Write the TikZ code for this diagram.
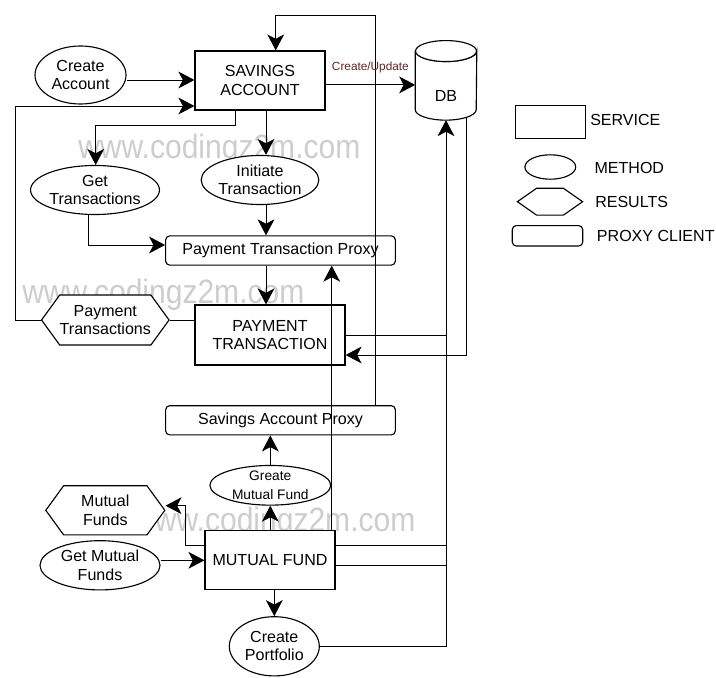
\documentclass[tikz,border=0pt]{standalone}
\usepackage{fontspec}
\setmainfont{Liberation Sans}
\usetikzlibrary{shapes.geometric, shapes.symbols, arrows.meta, positioning}

\definecolor{labelred}{RGB}{102,34,34}
\definecolor{markgray}{RGB}{205,205,205}

\tikzset{
    service/.style={
        rectangle, draw=black, fill=white, line width=0.8pt, text centered, align=center, inner sep=0pt
    },
    method/.style={
        ellipse, draw=black, fill=white, line width=0.8pt, text centered, align=center, inner sep=0pt
    },
    results/.style={
        signal, signal to=east and west, signal pointer angle=#1, draw=black, fill=white, line width=0.8pt, align=center, inner sep=0pt
    },
    proxy/.style={
        rectangle, rounded corners=0.1cm, draw=black, fill=white, line width=0.8pt, align=center, inner sep=0pt
    },
    database/.style={
        rectangle, inner sep=0pt
    },
    drum/.style={
        draw=black, fill=white, line width=0.8pt
    },
    keytext/.style={
        anchor=west, inner sep=0pt
    },
    arrow/.style={
        line width=0.7pt, -{Stealth[length=0.4cm, width=0.42cm, inset=0.11cm]}
    },
    link/.style={
        line width=0.7pt
    },
    watermark/.style={
        font=\fontsize{24}{28}\selectfont, text=markgray, anchor=base west, inner sep=0pt
    }
}

\begin{document}
\begin{tikzpicture}[x=0.025cm, y=-0.025cm, font=\fontsize{11.4}{13}\selectfont]
    \useasboundingbox (0,0) rectangle (716,677);

    % Watermark
    \node[watermark] (mark1) at (78,158) {\scalebox{0.89}[1]{www.codingz2m.com}};
    \node[watermark] (mark2) at (22,303.3) {\scalebox{0.89}[1]{www.codingz2m.com}};
    \node[watermark] (mark3) at (133,531.7) {\scalebox{0.89}[1]{www.codingz2m.com}};

    % Savings account
    \node[service, minimum width=3.25cm, minimum height=1.475cm] (savings) at (260,80.5) {SAVINGS\\ACCOUNT};
    \node[method, minimum width=2.275cm, minimum height=1.45cm] (createacc) at (80.5,75) {Create\\Account};
    \node[method, minimum width=3cm, minimum height=1.225cm] (gettrans) at (95,190) {Get\\Transactions};
    \node[method, minimum width=2.75cm, minimum height=1.225cm] (initiate) at (260,180) {Initiate\\Transaction};

    % Database
    \node[database, minimum width=1.525cm, minimum height=1.975cm] (db) at (446,80.35) {};
    \filldraw[drum] ([yshift=-0.2625cm]db.north west) -- ([yshift=0.2625cm]db.south west)
        arc[start angle=180, end angle=0, x radius=30.5, y radius=10.5] -- ([yshift=-0.2625cm]db.north east)
        arc[start angle=0, end angle=180, x radius=30.5, y radius=10.5];
    \draw[drum] ([yshift=-0.2625cm]db.north) ellipse[x radius=30.5, y radius=10.5];
    \node (dbtext) at (446,96) {DB};

    % Payment transaction
    \node[proxy, minimum width=5.74cm, minimum height=0.73cm] (ptproxy) at (280.5,250.5) {Payment Transaction Proxy};
    \node[service, minimum width=3.75cm, minimum height=1.5cm] (payment) at (270,335) {PAYMENT\\TRANSACTION};
    \node[results=108, minimum width=2.975cm, minimum height=1.25cm] (paytrans) at (105.3,320) {Payment\\Transactions};

    % Mutual fund
    \node[proxy, minimum width=5.74cm, minimum height=0.73cm] (saproxy) at (280.5,420.3) {Savings Account Proxy};
    \node[method, minimum width=3.02cm, minimum height=0.98cm, font=\fontsize{9.8}{13}\selectfont] (greate) at (270.3,485.3) {Greate\\Mutual Fund};
    \node[service, minimum width=3.25cm, minimum height=1.48cm] (mutual) at (270,560.3) {MUTUAL FUND};
    \node[results=108, minimum width=2.975cm, minimum height=1.23cm] (mfunds) at (105.3,510.3) {Mutual\\Funds};
    \node[method, minimum width=3cm, minimum height=1.23cm] (getmf) at (100,565.3) {Get Mutual\\Funds};
    \node[method, minimum width=2.25cm, minimum height=1.48cm] (portfolio) at (274.3,646.3) {Create\\Portfolio};

    % Legend
    \node[service, minimum width=1.75cm, minimum height=0.825cm] (keyservice) at (550.3,121.8) {};
    \node[keytext] (keyservicetext) at (590,120) {SERVICE};
    \node[method, minimum width=1.27cm, minimum height=0.61cm] (keymethod) at (550.3,167) {};
    \node[keytext] (keymethodtext) at (594.3,168) {METHOD};
    \node[results=70, minimum width=1.63cm, minimum height=0.67cm] (keyresults) at (550,201.7) {};
    \node[keytext] (keyresultstext) at (595,201.7) {RESULTS};
    \node[proxy, minimum width=1.76cm, minimum height=0.51cm] (keyproxy) at (547.5,235.8) {};
    \node[keytext] (keyproxytext) at (596.7,236) {PROXY CLIENT};

    % Turning points
    \coordinate (loopright) at (375.7,15);
    \coordinate (loopleft) at (275.7,15);
    \coordinate (backturn) at (15,106);
    \coordinate (getturn) at (95.7,125);
    \coordinate (proxyturn) at (88.3,245);
    \coordinate (midcol) at (266,0);
    \coordinate (fundup) at (331.7,0);
    \coordinate (dbout) at (466.7,117);
    \coordinate (dbback) at (466.7,355);
    \coordinate (fundturn) at (185,505.7);
    \coordinate (accountout) at ([yshift=-0.125cm]createacc.east);
    \coordinate (cu) at ([yshift=-0.11cm]savings.east);
    \coordinate (fundleft) at ([yshift=0.38cm]mutual.west);
    \coordinate (fundout1) at ([yshift=0.38cm]mutual.east);
    \coordinate (fundout2) at ([yshift=-0.12cm]mutual.east);

    % Savings account links
    \draw[arrow] (accountout) -- (accountout -| savings.west);
    \draw[arrow] (paytrans.west) -| (backturn) -- (backturn -| savings.west);
    \draw[link] (paytrans.east -| payment.west) -- (paytrans.east);
    \draw[arrow] (saproxy.north -| loopright) -- (loopright) -- (loopleft) -- (loopleft |- savings.north);
    \draw[arrow] (cu) -- node[above=4.5pt, font=\fontsize{8.4}{10}\selectfont, text=labelred] (culabel) {Create/Update} (cu -| db.west);
    \draw[arrow] ([xshift=-0.61cm]savings.south) |- (getturn) -- (getturn |- gettrans.north);
    \draw[arrow] (savings.south -| midcol) -- (midcol |- initiate.north);
    \draw[arrow] (gettrans.south -| proxyturn) -- (proxyturn) -- (proxyturn -| ptproxy.west);
    \draw[arrow] (initiate.south -| midcol) -- (midcol |- ptproxy.north);
    \draw[arrow] (ptproxy.south -| midcol) -- (midcol |- payment.north);

    % Database links
    \draw[arrow] (dbout) -- (dbback) -- (dbback -| payment.east);
    \draw[link] (payment.east) -- (payment.east -| db.south);
    \draw[link] (fundout1) -- (fundout1 -| db.south);
    \draw[link] (fundout2) -- (fundout2 -| db.south);
    \draw[arrow] (portfolio.east) -| (db.south);

    % Mutual fund links
    \draw[arrow] (mutual.north -| fundup) -- (fundup |- ptproxy.south);
    \draw[arrow] (greate.south |- mutual.north) -- (greate.south);
    \draw[arrow] (greate.north) -- (greate.north |- saproxy.south);
    \draw[arrow] (fundleft) -| (fundturn) -- (fundturn -| mfunds.east);
    \draw[arrow] (getmf.east |- mutual.west) -- (mutual.west);
    \draw[arrow] (portfolio.north |- mutual.south) -- (portfolio.north);

\end{tikzpicture}
\end{document}
